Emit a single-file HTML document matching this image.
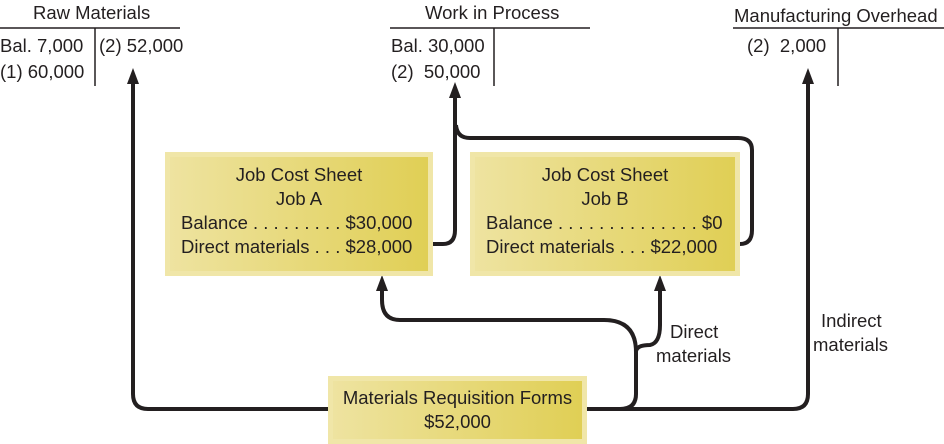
<!DOCTYPE html>
<html><head><style>
body{margin:0;width:944px;height:444px;background:#fff;overflow:hidden;position:relative;font-family:"Liberation Sans",sans-serif;color:#231f20}
.t{position:absolute;font-size:18.5px;white-space:nowrap;line-height:20px}
.box{position:absolute;background:#f0e6a8;box-sizing:border-box;padding:5px}
.box>div{width:100%;height:100%;box-sizing:border-box;background:linear-gradient(90deg,#eee3a0,#e0cf55);font-size:18.5px;line-height:24px;white-space:nowrap}
</style></head><body>
<svg width="944" height="444" style="position:absolute;left:0;top:0">
<g stroke="#231f20" stroke-width="1.5" fill="none">
<line x1="0" y1="28" x2="180" y2="28"/><line x1="95" y1="28" x2="95" y2="86"/>
<line x1="390" y1="28" x2="590" y2="28"/><line x1="494" y1="28" x2="494" y2="86"/>
<line x1="733" y1="28" x2="944" y2="28"/><line x1="838" y1="28" x2="838" y2="86"/>
</g>
<g stroke="#231f20" stroke-width="4" fill="none" stroke-linejoin="round">
<path d="M328 409 H148 Q133 409 133 394 V80"/>
<path d="M587 409 H793 Q808 409 808 394 V80"/>
<path d="M587 409 H620 Q636 409 636 394 V352 Q636 320 604 320 H400 Q382 320 382 300 V287"/>
<path d="M636 352 Q636 345 650 345 Q660 343 660 325 V287"/>
<path d="M433 244 H443 Q455 244 455 230 V95"/>
<path d="M740 244 Q752 244 752 230 V150 Q752 138 738 138 H470 Q457 138 456 125"/>
</g>
<g fill="#231f20">
<polygon points="133,68 127,84 139,84"/>
<polygon points="808,68 802,84 814,84"/>
<polygon points="455,82 449,98 461,98"/>
<polygon points="382,275 376,291 388,291"/>
<polygon points="660,275 654,291 666,291"/>
</g>
</svg>
<div class="t" style="left:33px;top:3px">Raw Materials</div>
<div class="t" style="left:0;top:36px">Bal. 7,000</div>
<div class="t" style="left:0;top:62px">(1) 60,000</div>
<div class="t" style="left:99px;top:36px">(2) 52,000</div>
<div class="t" style="left:425px;top:3px">Work in Process</div>
<div class="t" style="left:391px;top:36px">Bal. 30,000</div>
<div class="t" style="left:391px;top:62px">(2) &nbsp;50,000</div>
<div class="t" style="left:734px;top:6px">Manufacturing Overhead</div>
<div class="t" style="left:747px;top:36px">(2) &nbsp;2,000</div>
<div class="box" style="left:165px;top:152px;width:268px;height:124px"><div style="padding:6px 0 0 11px">
<div style="text-align:center;padding-right:11px">Job Cost Sheet<br>Job A</div>Balance . . . . . . . . . $30,000<br>Direct materials . . . $28,000</div></div>
<div class="box" style="left:470px;top:152px;width:270px;height:124px"><div style="padding:6px 0 0 11px">
<div style="text-align:center;padding-right:11px">Job Cost Sheet<br>Job B</div>Balance . . . . . . . . . . . . . . $0<br>Direct materials . . . $22,000</div></div>
<div class="box" style="left:328px;top:376px;width:259px;height:68px"><div style="text-align:center;padding-top:5px">Materials Requisition Forms<br>$52,000</div></div>
<div class="t" style="left:670px;top:322px">Direct</div>
<div class="t" style="left:656px;top:346px">materials</div>
<div class="t" style="left:821px;top:311px">Indirect</div>
<div class="t" style="left:813px;top:335px">materials</div>
</body></html>
